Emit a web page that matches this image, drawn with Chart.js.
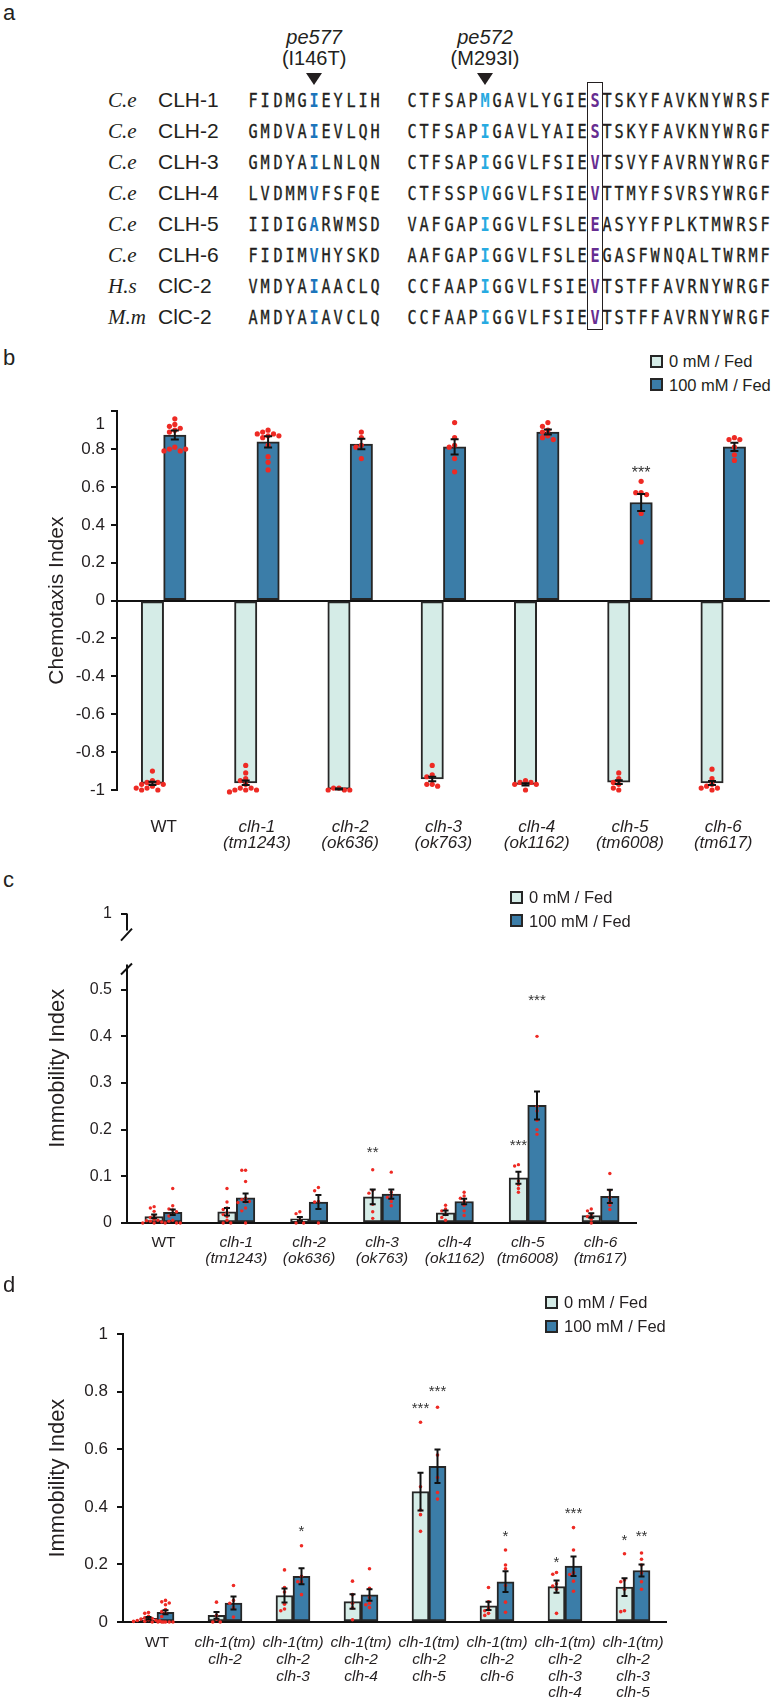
<!DOCTYPE html>
<html>
<head>
<meta charset="utf-8">
<title>CLH chemotaxis and immobility</title>
<script src="https://cdn.jsdelivr.net/npm/chart.js@4.4.1/dist/chart.umd.min.js"></script>
<style>
  html, body { margin: 0; padding: 0; background: #fff; }
  body { position: relative; width: 782px; height: 1706px; overflow: hidden;
         font-family: "Liberation Sans", Arial, sans-serif; color: #231f20; }
  .t { position: absolute; white-space: nowrap; line-height: 1; }
  canvas { position: absolute; left: 0; }
  .key { position: absolute; width: 13px; height: 13px; box-sizing: border-box; border: 2px solid #262626; }
</style>
</head>
<body>
<canvas id="chartB" width="782" height="470" style="top:395px"></canvas>
<canvas id="chartC" width="782" height="400" style="top:895px"></canvas>
<canvas id="chartD" width="782" height="391" style="top:1315px"></canvas>
<script>
// ---- panel a : alignment ----
const species = ["C.e", "C.e", "C.e", "C.e", "C.e", "C.e", "H.s", "M.m"];
const proteins = ["CLH-1", "CLH-2", "CLH-3", "CLH-4", "CLH-5", "CLH-6", "ClC-2", "ClC-2"];
const seqA = ["FIDMGIEYLIH", "GMDVAIEVLQH", "GMDYAILNLQN", "LVDMMVFSFQE",
              "IIDIGARWMSD", "FIDIMVHYSKD", "VMDYAIAACLQ", "AMDYAIAVCLQ"];
const seqB = ["CTFSAPMGAVLYGIESTSKYFAVKNYWRSF", "CTFSAPIGAVLYAIESTSKYFAVKNYWRGF",
              "CTFSAPIGGVLFSIEVTSVYFAVRNYWRGF", "CTFSSPVGGVLFSIEVTTMYFSVRSYWRGF",
              "VAFGAPIGGVLFSLEEASYYFPLKTMWRSF", "AAFGAPIGGVLFSLEEGASFWNQALTWRMF",
              "CCFAAPIGGVLFSIEVTSTFFAVRNYWRGF", "CCFAAPIGGVLFSIEVTSTFFAVRNYWRGF"];
const mutA = ["pe577", "(I146T)", 5];
const mutB = ["pe572", "(M293I)", 6];
const boxCol = 15;

// ---- panel b : chemotaxis index ----
const labelsB = ["WT", ["clh-1", "(tm1243)"], ["clh-2", "(ok636)"], ["clh-3", "(ok763)"],
                 ["clh-4", "(ok1162)"], ["clh-5", "(tm6008)"], ["clh-6", "(tm617)"]];
const meanB0 = [-0.965, -0.962, -0.995, -0.942, -0.97, -0.958, -0.963];
const meanB100 = [0.874, 0.838, 0.827, 0.812, 0.89, 0.518, 0.812];
const semB0 = [0.008, 0.012, 0.003, 0.012, 0.006, 0.01, 0.01];
const semB100 = [0.024, 0.03, 0.028, 0.04, 0.013, 0.045, 0.022];
const dotsB0 = [
  [-0.9, -0.95, -0.96, -0.96, -0.97, -0.97, -0.98, -0.99, -1.0, -1.0, -0.99],
  [-0.87, -0.91, -0.94, -0.95, -0.97, -0.99, -0.99, -1.0, -1.0, -1.0, -1.01],
  [-0.99, -0.99, -1.0, -1.0, -1.0],
  [-0.87, -0.92, -0.93, -0.97, -0.97, -0.98],
  [-0.95, -0.96, -0.96, -0.97, -0.97, -1.0],
  [-0.91, -0.94, -0.96, -0.97, -0.99, -1.0],
  [-0.89, -0.94, -0.97, -0.98, -0.99, -0.99, -1.0]
];
const dotsB100 = [
  [0.96, 0.93, 0.92, 0.91, 0.9, 0.89, 0.81, 0.8, 0.79, 0.79, 0.8],
  [0.9, 0.89, 0.88, 0.88, 0.87, 0.87, 0.86, 0.82, 0.76, 0.73, 0.69],
  [0.89, 0.86, 0.82, 0.81, 0.75],
  [0.94, 0.86, 0.82, 0.81, 0.75, 0.68],
  [0.94, 0.92, 0.9, 0.89, 0.87, 0.86, 0.85],
  [0.63, 0.57, 0.57, 0.56, 0.46, 0.31],
  [0.86, 0.85, 0.85, 0.81, 0.77, 0.74]
];
const starsB = [[5, 1, "***", 0.695]];

// ---- panel c : immobility index, single mutants ----
const labelsC = labelsB;
const meanC0 = [0.014, 0.024, 0.009, 0.056, 0.022, 0.097, 0.016];
const meanC100 = [0.023, 0.054, 0.045, 0.062, 0.046, 0.252, 0.057];
const semC0 = [0.004, 0.008, 0.004, 0.016, 0.005, 0.013, 0.005];
const semC100 = [0.006, 0.009, 0.015, 0.01, 0.006, 0.03, 0.014];
const dotsC0 = [
  [0.035, 0.032, 0.025, 0.016, 0.012, 0.008, 0.006, 0.005, 0.004, 0.002, 0.0, 0.0],
  [0.074, 0.045, 0.032, 0.029, 0.022, 0.018, 0.014, 0.006, 0.0, 0.0],
  [0.024, 0.02, 0.006, 0.0, 0.0],
  [0.114, 0.07, 0.064, 0.04, 0.024, 0.01],
  [0.038, 0.03, 0.026, 0.018, 0.012, 0.006],
  [0.125, 0.122, 0.09, 0.082, 0.074, 0.066],
  [0.03, 0.026, 0.018, 0.014, 0.008, 0.0]
];
const dotsC100 = [
  [0.074, 0.037, 0.03, 0.028, 0.024, 0.018, 0.015, 0.006, 0.004, 0.0, 0.0, 0.0],
  [0.113, 0.113, 0.089, 0.053, 0.05, 0.046, 0.045, 0.044, 0.032, 0.026, 0.0],
  [0.076, 0.069, 0.046, 0.045, 0.0],
  [0.109, 0.066, 0.058, 0.055, 0.046, 0.037],
  [0.066, 0.058, 0.053, 0.046, 0.038, 0.026, 0.016],
  [0.4, 0.25, 0.24, 0.22, 0.2, 0.19],
  [0.106, 0.07, 0.054, 0.046, 0.038, 0.029]
];
const ticksC = [0, 0.1, 0.2, 0.3, 0.4, 0.5];
const starsC = [[3, 0, "**", 0.16], [5, 0, "***", 0.175], [5, 1, "***", 0.486]];

// ---- panel d : immobility index, multiple mutants ----
const labelsD = ["WT", ["clh-1(tm)", "clh-2"], ["clh-1(tm)", "clh-2", "clh-3"],
                 ["clh-1(tm)", "clh-2", "clh-4"], ["clh-1(tm)", "clh-2", "clh-5"],
                 ["clh-1(tm)", "clh-2", "clh-6"], ["clh-1(tm)", "clh-2", "clh-3", "clh-4"],
                 ["clh-1(tm)", "clh-2", "clh-3", "clh-5"]];
const meanD0 = [0.013, 0.023, 0.092, 0.071, 0.453, 0.056, 0.123, 0.121];
const meanD100 = [0.034, 0.066, 0.159, 0.094, 0.541, 0.14, 0.194, 0.179];
const semD0 = [0.004, 0.012, 0.024, 0.025, 0.066, 0.014, 0.021, 0.031];
const semD100 = [0.007, 0.023, 0.028, 0.02, 0.058, 0.036, 0.034, 0.021];
const dotsD0 = [
  [0.033, 0.03, 0.02, 0.015, 0.012, 0.01, 0.008, 0.006, 0.005, 0.004, 0.003, 0.002, 0.0, 0.0],
  [0.069, 0.023, 0.01, 0.0, 0.0],
  [0.181, 0.12, 0.104, 0.062, 0.045, 0.039],
  [0.142, 0.095, 0.065, 0.049, 0.008],
  [0.694, 0.47, 0.389, 0.373, 0.315],
  [0.12, 0.07, 0.049, 0.039, 0.03, 0.023],
  [0.172, 0.166, 0.133, 0.125, 0.114, 0.03],
  [0.237, 0.146, 0.14, 0.114, 0.039, 0.036]
];
const dotsD100 = [
  [0.075, 0.07, 0.066, 0.06, 0.043, 0.036, 0.03, 0.019, 0.0, 0.0, 0.0, 0.0, 0.0],
  [0.127, 0.075, 0.065, 0.049, 0.017],
  [0.265, 0.159, 0.14, 0.14, 0.095],
  [0.185, 0.117, 0.085, 0.065, 0.06, 0.05],
  [0.746, 0.58, 0.502, 0.45, 0.427],
  [0.25, 0.198, 0.185, 0.127, 0.069, 0.034],
  [0.328, 0.25, 0.172, 0.165, 0.142, 0.107],
  [0.24, 0.218, 0.198, 0.17, 0.14, 0.114]
];
const starsD = [[2, 1, "*", 0.327], [4, 0, "***", 0.757], [4, 1, "***", 0.816], [5, 1, "*", 0.31],
                [6, 0, "*", 0.22], [6, 1, "***", 0.39], [7, 0, "*", 0.298], [7, 1, "**", 0.31]];

const LIGHT = "#d5ece7", DARK = "#3b7da8", EDGE = "#262626", RED = "#ee2a24", TXT = "#231f20";
const SANS = '"Liberation Sans", Arial, sans-serif';

// small helper for html text, centred vertically on y
function put(text, x, y, font, opts) {
  opts = opts || {};
  const d = document.createElement("div");
  d.className = "t";
  d.textContent = text;
  d.style.font = font;
  d.style.left = x + "px";
  d.style.top = y + "px";
  if (opts.color) d.style.color = opts.color;
  if (opts.stroke) d.style.webkitTextStroke = opts.stroke;
  d.style.transform = (opts.center ? "translate(-50%,-50%)" : "translate(0,-50%)") + (opts.sx ? " scaleX(" + opts.sx + ")" : "");
  document.body.appendChild(d);
  return d;
}

// ---- draw panel a ----
const rowY0 = 100, rowStep = 31, pitch = 12.17, seqAx = 253.3, seqBx = 412;
const SEQFONT = '19px "DejaVu Sans Mono", monospace';
const SEQBOLD = 'bold 19px "DejaVu Sans Mono", monospace';

function drawSeq(seq, x0, y, colorAt) {
  [...seq].forEach((ch, k) => {
    const c = colorAt(k);
    put(ch, x0 + k * pitch, y, c ? SEQBOLD : SEQFONT,
        { center: true, sx: 0.8, color: c || TXT, stroke: c ? "" : "0.35px " + TXT });
  });
}

put("a", 3, 13, "22px " + SANS);
species.forEach((sp, i) => {
  const y = rowY0 + i * rowStep;
  put(sp, 108, y, 'italic 21px "Liberation Serif", "Times New Roman", serif');
  put(proteins[i], 158, y, "21px " + SANS);
  drawSeq(seqA[i], seqAx, y, k => (k === mutA[2] ? "#1c75bc" : null));
  drawSeq(seqB[i], seqBx, y, k => (k === mutB[2] ? "#27aae1" : k === boxCol ? "#662d91" : null));
});

[[mutA, seqAx], [mutB, seqBx]].forEach(([m, x0]) => {
  const x = x0 + m[2] * pitch;
  put(m[0], x, 37, "italic 20px " + SANS, { center: true });
  put(m[1], x, 58, "20px " + SANS, { center: true });
  const tri = document.createElement("div");
  tri.style.cssText = "position:absolute;width:0;height:0;border-left:8px solid transparent;" +
    "border-right:8px solid transparent;border-top:12px solid #231f20;left:" + (x - 8) + "px;top:73px";
  document.body.appendChild(tri);
});

const box = document.createElement("div");
box.style.cssText = "position:absolute;box-sizing:border-box;border:1.6px solid #231f20;width:16px;height:248px;top:82px;left:" +
  (seqBx + boxCol * pitch - 8) + "px";
document.body.appendChild(box);

// ---- panel letters and legends ----
put("b", 3, 358, "22px " + SANS);
put("c", 3, 880, "22px " + SANS);
put("d", 3, 1285, "22px " + SANS);

function legend(x, y0, y1) {
  [[y0, LIGHT, "0 mM / Fed"], [y1, DARK, "100 mM / Fed"]].forEach(([y, fill, txt]) => {
    const k = document.createElement("div");
    k.className = "key";
    k.style.left = x + "px";
    k.style.top = (y - 6.5) + "px";
    k.style.background = fill;
    document.body.appendChild(k);
    put(txt, x + 19, y, "16.5px " + SANS);
  });
}
legend(650, 361, 384.5);
legend(510, 897, 920.5);
legend(545, 1302, 1326);

// ---- charts ----
Chart.defaults.font.family = SANS;
Chart.defaults.color = TXT;

// spreads dots sideways when they sit at nearly the same value
function swarm(vals, dy, dx) {
  const placed = [];
  return vals.map(v => {
    let k = 0, off = 0;
    for (;;) {
      off = k === 0 ? 0 : (k % 2 ? -1 : 1) * Math.ceil(k / 2) * dx;
      if (placed.every(p => Math.abs(p.v - v) >= dy || Math.abs(p.o - off) >= dx * 0.99)) break;
      k++;
    }
    placed.push({ v: v, o: off });
    return off;
  });
}

function extras(cfg) {
  return {
    id: "extras",
    afterDatasetsDraw(chart) {
      const ctx = chart.ctx, y = chart.scales.y;
      ctx.save();
      ctx.strokeStyle = "#111";
      ctx.lineWidth = 2;
      [cfg.sem0, cfg.sem100].forEach((arr, d) => {
        const bars = chart.getDatasetMeta(d).data;
        const means = d ? cfg.mean100 : cfg.mean0;
        arr.forEach((s, i) => {
          const x = bars[i].x;
          const y1 = y.getPixelForValue(means[i] - s), y2 = y.getPixelForValue(means[i] + s);
          ctx.beginPath();
          ctx.moveTo(x, y1); ctx.lineTo(x, y2);
          ctx.moveTo(x - cfg.cap / 2, y1); ctx.lineTo(x + cfg.cap / 2, y1);
          ctx.moveTo(x - cfg.cap / 2, y2); ctx.lineTo(x + cfg.cap / 2, y2);
          ctx.stroke();
        });
      });
      ctx.fillStyle = "#333";
      ctx.font = cfg.starSize + "px " + SANS;
      ctx.textAlign = "center";
      ctx.textBaseline = "alphabetic";
      cfg.stars.forEach(([i, d, txt, v]) => {
        const x = chart.getDatasetMeta(d).data[i].x;
        ctx.fillText(txt, x, y.getPixelForValue(v) + cfg.starSize * 0.57);
      });
      if (cfg.topLabelDrop) {
        // the top label of this axis sits a little below its tick in the original
        ctx.fillStyle = TXT;
        ctx.font = cfg.yFont + "px " + SANS;
        ctx.textAlign = "right";
        ctx.textBaseline = "middle";
        ctx.fillText(String(cfg.yMax), chart.chartArea.left - 6 - cfg.yPad, y.getPixelForValue(cfg.yMax) + cfg.topLabelDrop);
      }
      if (cfg.breakLow !== undefined) {
        // broken y axis: short piece up to the "1" tick, then the main axis
        const x0 = chart.chartArea.left;
        const top = y.getPixelForValue(y.max), low = y.getPixelForValue(cfg.breakLow);
        ctx.beginPath();
        ctx.moveTo(x0, top); ctx.lineTo(x0, top + 17);
        ctx.moveTo(x0 - 6, top + 27); ctx.lineTo(x0 + 5, top + 15);
        ctx.moveTo(x0 - 6, low + 11); ctx.lineTo(x0 + 5, low);
        ctx.moveTo(x0, low + 1); ctx.lineTo(x0, y.getPixelForValue(0));
        ctx.stroke();
      }
      ctx.restore();
    }
  };
}

function buildChart(id, cfg) {
  const n = cfg.labels.length, shift = cfg.catPct / 4;
  const pts = [];
  [cfg.dots0, cfg.dots100].forEach((groups, d) => {
    groups.forEach((vals, i) => {
      const offs = swarm(vals, cfg.dotDy, cfg.dotDx);
      vals.forEach((v, k) => pts.push({ x: i + (d ? shift : -shift) + offs[k], y: v }));
    });
  });
  const barsOf = (means, sgn) => means.map((m, i) => ({ x: i + sgn * shift, y: m }));

  const yScale = {
    min: cfg.yMin,
    max: cfg.yMax,
    bounds: "data",
    ticks: { stepSize: cfg.step, padding: cfg.yPad, color: TXT, font: { size: cfg.yFont },
             callback: v => (cfg.topLabelDrop && v === cfg.yMax ? "" : String(Math.round(v * 10) / 10)) },
    grid: {
      color: c => (c.tick && c.tick.value === 0 ? "#111" : "rgba(0,0,0,0)"),
      lineWidth: 2, tickColor: "#111", tickWidth: 2, tickLength: 6
    },
    border: { display: cfg.breakLow === undefined, color: "#111", width: 2 },
    title: { display: true, text: cfg.yTitle, color: TXT, font: { size: cfg.titleSize }, padding: { top: 4, bottom: 4 } },
    afterFit: s => { s.width = cfg.yW; }
  };
  if (cfg.yTicks) {
    yScale.afterBuildTicks = s => { s.ticks = cfg.yTicks.concat([cfg.yMax]).map(v => ({ value: v })); };
    yScale.ticks.callback = v => (v === cfg.yMax ? "1" : String(v));
  }

  const barStyle = { borderColor: EDGE, borderWidth: 2, borderSkipped: false, grouped: false,
                     categoryPercentage: 1, barPercentage: 1, xAxisID: "x" };

  return new Chart(document.getElementById(id), {
    type: "bar",
    data: {
      datasets: [
        Object.assign({ label: "0 mM / Fed", data: barsOf(cfg.mean0, -1), backgroundColor: LIGHT }, barStyle),
        Object.assign({ label: "100 mM / Fed", data: barsOf(cfg.mean100, 1), backgroundColor: DARK }, barStyle),
        { type: "scatter", data: pts, xAxisID: "xd", yAxisID: "y", order: -1, clip: false,
          pointRadius: cfg.dotR, pointBackgroundColor: RED, pointBorderWidth: 0 }
      ]
    },
    options: {
      responsive: false,
      animation: false,
      devicePixelRatio: 1,
      layout: { padding: { left: 41, right: cfg.padR, top: cfg.padT, bottom: 0 } },
      plugins: { legend: { display: false }, tooltip: { enabled: false } },
      scales: {
        x: {
          type: "linear",
          offset: false,
          min: -0.5,
          max: n - 0.5,
          bounds: "data",
          grid: { display: false, drawTicks: false, tickLength: 0, offset: false },
          border: { display: false },
          afterBuildTicks: s => { s.ticks = cfg.labels.map((_, i) => ({ value: i })); },
          ticks: {
            autoSkip: false, maxRotation: 0, minRotation: 0, padding: cfg.xPad, color: TXT,
            callback: v => cfg.labels[v],
            font: c => ({ size: cfg.xFont, lineHeight: cfg.xLine, style: c.index === 0 ? "normal" : "italic" })
          },
          afterFit: s => { s.height = cfg.xH; }
        },
        xd: {
          type: "linear", offset: false, min: -0.5, max: n - 0.5, bounds: "data",
          ticks: { display: false }, grid: { display: false, drawTicks: false, offset: false }, border: { display: false },
          afterFit: s => { s.height = 0; }
        },
        y: yScale
      }
    },
    plugins: [extras(cfg)]
  });
}

buildChart("chartB", {
  labels: labelsB, mean0: meanB0, mean100: meanB100, sem0: semB0, sem100: semB100,
  dots0: dotsB0, dots100: dotsB100, stars: starsB,
  yMin: -1, yMax: 1, step: 0.2, yTitle: "Chemotaxis Index", titleSize: 21, topLabelDrop: 13,
  catPct: 0.48, dotR: 2.6, dotDy: 0.029, dotDx: 0.058, cap: 8, starSize: 16,
  yW: 76, padR: 7, padT: 15, xH: 75, xPad: 29, xFont: 17, xLine: 0.95, yFont: 17, yPad: 6
});

buildChart("chartC", {
  labels: labelsC, mean0: meanC0, mean100: meanC100, sem0: semC0, sem100: semC100,
  dots0: dotsC0, dots100: dotsC100, stars: starsC,
  yMin: 0, yMax: 0.663, yTicks: ticksC, breakLow: 0.556, yTitle: "Immobility Index", titleSize: 22,
  catPct: 0.51, dotR: 1.7, dotDy: 0.0075, dotDx: 0.052, cap: 6, starSize: 15,
  yW: 86, padR: 145, padT: 13, xH: 72, xPad: 12, xFont: 15.5, xLine: 1.0, yFont: 16, yPad: 9
});

buildChart("chartD", {
  labels: labelsD, mean0: meanD0, mean100: meanD100, sem0: semD0, sem100: semD100,
  dots0: dotsD0, dots100: dotsD100, stars: starsD,
  yMin: 0, yMax: 1, step: 0.2, yTitle: "Immobility Index", titleSize: 22,
  catPct: 0.5, dotR: 1.8, dotDy: 0.012, dotDx: 0.055, cap: 6, starSize: 15,
  yW: 82, padR: 115, padT: 13, xH: 84, xPad: 12.5, xFont: 15.5, xLine: 1.08, yFont: 17, yPad: 9
});
</script>
</body>
</html>
